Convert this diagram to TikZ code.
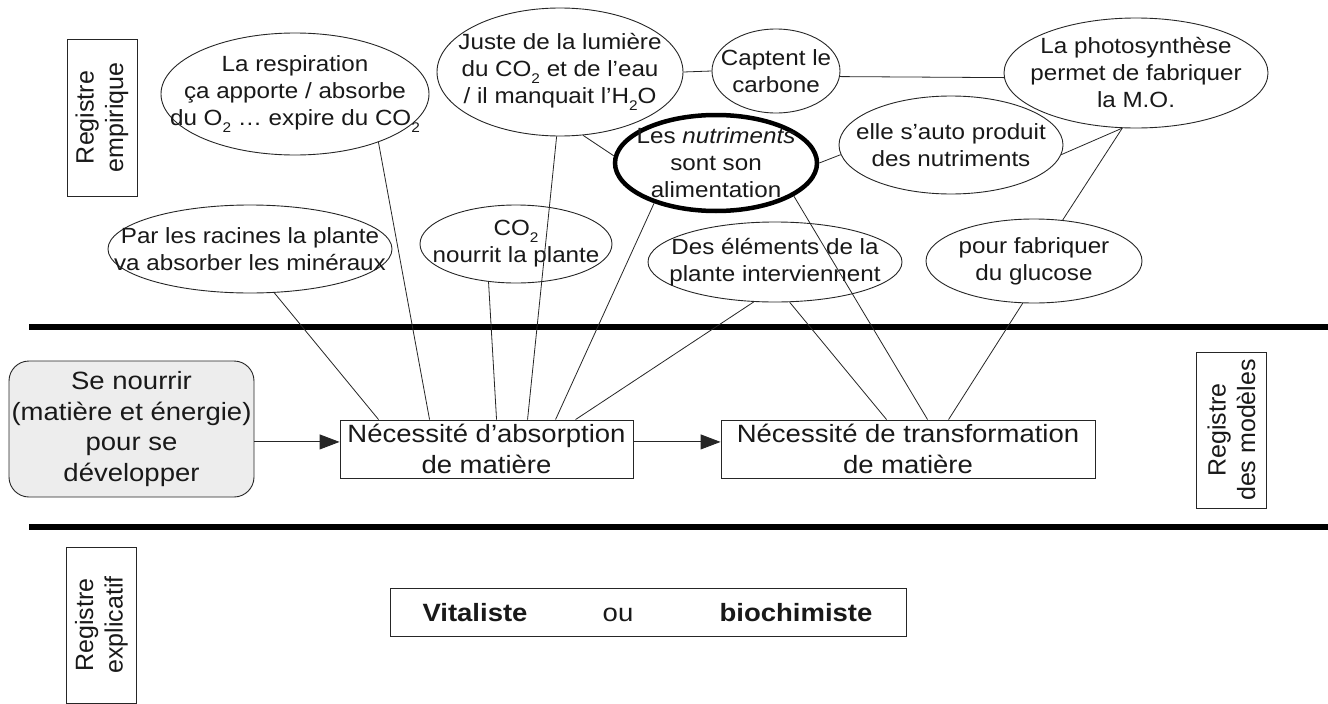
\documentclass[tikz,border=0pt]{standalone}
\usepackage{fontspec}
\setmainfont{Liberation Sans}[FakeStretch=1.1]
\newfontfamily\regfont{Liberation Sans}
\usetikzlibrary{shapes.geometric,arrows.meta,calc}
\newcommand\lowsub[1]{\raisebox{-0.32em}{\fontsize{14}{14}\selectfont #1}}
\begin{document}
\begin{tikzpicture}[x=1pt,y=-1pt,
  every node/.style={text=black!90},
  ell/.style={ellipse, draw=black!85, line width=0.9pt, inner sep=-100pt, align=center, font=\fontsize{22}{27}\selectfont},
  conn/.style={draw=black!85, line width=0.8pt},
  sepline/.style={line width=5.5pt, draw=black},
  modbox/.style={rectangle, draw=black!85, line width=0.9pt, inner sep=0pt, align=center, font=\fontsize{25}{30.5}\selectfont},
  regbox/.style={rectangle, draw=black!85, line width=0.9pt, inner sep=0pt, align=center, rotate=90, minimum height=70pt, font=\regfont\fontsize{25}{29.5}\selectfont},
  arr/.style={draw=black!85, line width=0.9pt, -{Triangle[length=20pt,width=15pt]}},
  wtext/.style={anchor=base, inner sep=0pt, font=\fontsize{25}{30}\selectfont}
]
\useasboundingbox[fill=white] (0,0) rectangle (1328,704);

% separators
\coordinate (s1a) at (29,327); \coordinate (s1b) at (1328,327);
\coordinate (s2a) at (29,527); \coordinate (s2b) at (1328,527);
\draw[sepline] (s1a) -- (s1b);
\draw[sepline] (s2a) -- (s2b);

% register labels
\node[regbox, minimum width=157pt] (regemp) at (102,117.5) {Registre\\empirique};
\node[regbox, minimum width=156pt] (regmod) at (1231.5,430) {Registre\\des modèles};
\node[regbox, minimum width=156pt] (regexp) at (101.5,625) {Registre\\explicatif};

% empirical ellipses
\node[ell, minimum width=268pt, minimum height=122pt] (resp) at (295,94) {La respiration\\ça apporte / absorbe\\du O\lowsub{2} … expire du CO\lowsub{2}};
\node[ell, minimum width=284pt, minimum height=88pt] (racines) at (250,249) {Par les racines la plante\\va absorber les minéraux};
\node[ell, minimum width=246pt, minimum height=128pt] (juste) at (560,72) {Juste de la lumière\\du CO\lowsub{2} et de l’eau\\/ il manquait l’H\lowsub{2}O};
\node[ell, minimum width=128pt, minimum height=84pt] (captent) at (776,71) {Captent le\\carbone};
\node[ell, line width=4.5pt, draw=black, minimum width=202pt, minimum height=96pt] (nutri) at (716,163) {Les \textit{nutriments}\\sont son\\alimentation};
\node[ell, minimum width=192pt, minimum height=78pt] (co2) at (516,244) {CO\lowsub{2}\\nourrit la plante};
\node[ell, minimum width=254pt, minimum height=80pt] (elem) at (775,262) {Des éléments de la\\plante interviennent};
\node[ell, minimum width=264pt, minimum height=110pt] (photo) at (1136,73) {La photosynthèse\\permet de fabriquer\\la M.O.};
\node[ell, minimum width=224pt, minimum height=98pt] (auto) at (951,145) {elle s’auto produit\\des nutriments};
\node[ell, minimum width=216pt, minimum height=84pt] (gluc) at (1034,261) {pour fabriquer\\du glucose};

% model boxes
\node[modbox, rounded corners=20pt, fill=black!7, minimum width=245pt, minimum height=136pt] (nourrir) at (131.5,429) {Se nourrir\\(matière et énergie)\\pour se\\développer};
\node[modbox, minimum width=293pt, minimum height=58pt] (abs) at (486.5,449) {Nécessité d’absorption\\de matière};
\node[modbox, minimum width=374pt, minimum height=58pt] (trans) at (908,449) {Nécessité de transformation\\de matière};

% explicative box
\node[rectangle, draw=black!85, line width=0.9pt, minimum width=516pt, minimum height=48pt, inner sep=0pt] (vbox) at (648,612) {};
\node[wtext] (vit) at (475,621) {\bfseries Vitaliste};
\node[wtext] (ou) at (618,621) {ou};
\node[wtext] (bio) at (796,621) {\bfseries biochimiste};

% arrows
\coordinate (aa) at ($(abs.west)!0.24!(abs.north west)$);
\coordinate (ta) at ($(trans.west)!0.24!(trans.north west)$);
\draw[arr] (nourrir.east |- aa) -- (aa);
\draw[arr] (abs.east |- aa) -- (ta);

% connectors to absorption
\draw[conn] (racines.-61) -- ($(abs.north west)+(39,0)$);
\draw[conn] (resp.-30) -- ($(abs.north west)+(90,0)$);
\draw[conn] (co2.-126) -- ($(abs.north west)+(157,0)$);
\draw[conn] (juste.-93.5) -- ($(abs.north west)+(188,0)$);
\draw[conn] (nutri.-147) -- ($(abs.north west)+(216,0)$);
\draw[conn] (elem.-118) -- ($(abs.north west)+(236,0)$);
% connectors to transformation
\draw[conn] (elem.-70) -- ($(trans.north west)+(166,0)$);
\draw[conn] (nutri.-23) -- ($(trans.north west)+(207,0)$);
\draw[conn] (gluc.-105) -- ($(trans.north west)+(228,0)$);
% connectors among ellipses
\draw[conn] (juste.east) -- (captent.west);
\draw[conn] (captent.-5) -- (photo.-178);
\draw[conn] (juste.-70) -- (nutri.176);
\draw[conn] (nutri.east) -- (auto.-175);
\draw[conn] (auto.-5) -- (photo.-104);
\draw[conn] (photo.-104) -- (gluc.55);
\end{tikzpicture}
\end{document}
